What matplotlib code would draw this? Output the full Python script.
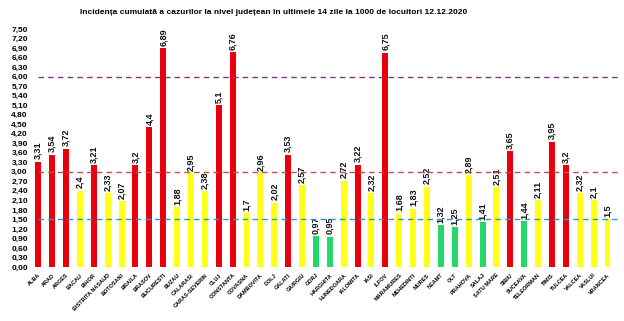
import matplotlib.pyplot as plt
from matplotlib.ticker import FuncFormatter, MultipleLocator

judete = ['ALBA', 'ARAD', 'ARGES', 'BACAU', 'BIHOR', 'BISTRITA NASAUD', 'BOTOSANI',
          'BRAILA', 'BRASOV', 'BUCURESTI', 'BUZAU', 'CALARASI', 'CARAS-SEVERIN', 'CLUJ',
          'CONSTANTA', 'COVASNA', 'DAMBOVITA', 'DOLJ', 'GALATI', 'GIURGIU', 'GORJ',
          'HARGHITA', 'HUNEDOARA', 'IALOMITA', 'IASI', 'ILFOV', 'MARAMURES', 'MEHEDINTI',
          'MURES', 'NEAMT', 'OLT', 'PRAHOVA', 'SALAJ', 'SATU MARE', 'SIBIU', 'SUCEAVA',
          'TELEORMAN', 'TIMIS', 'TULCEA', 'VALCEA', 'VASLUI', 'VRANCEA']
incidenta = [3.31, 3.54, 3.72, 2.4, 3.21, 2.33, 2.07, 3.2, 4.4, 6.89, 1.88, 2.95, 2.38,
             5.1, 6.76, 1.7, 2.96, 2.02, 3.53, 2.57, 0.97, 0.95, 2.72, 3.22, 2.32, 6.75,
             1.68, 1.83, 2.52, 1.32, 1.25, 2.89, 1.41, 2.51, 3.65, 1.44, 2.11, 3.95, 3.2,
             2.32, 2.1, 1.5]
praguri = [6.0, 3.0, 1.5]

plt.rcParams['font.family'] = ['Liberation Sans', 'DejaVu Sans']


def culoare(v):
    if v > 3.0:
        return '#e8000c'
    if v >= 1.5:
        return '#ffff1a'
    return '#26d66a'


fig = plt.figure(figsize=(6.24, 3.21), dpi=100)
ax = fig.add_axes([32 / 624, 1 - 267 / 321, 588 / 624, 238 / 321])

x = range(len(judete))
bars = ax.bar(x, incidenta, width=0.43, color=[culoare(v) for v in incidenta], zorder=2)

for b, v in zip(bars, incidenta):
    txt = ('%g' % v).replace('.', ',')
    ax.text(b.get_x() + b.get_width() / 2, v + 0.08, txt, rotation=90, ha='center',
            va='bottom', fontsize=6.5, fontweight='bold', color='#111111')

stiluri = {6.0: '#7e3a7e', 3.0: '#c84a4a', 1.5: '#2f95c8'}
for p in praguri:
    ax.hlines(p, 0, 42, colors=stiluri[p], linestyles=(0, (4, 3)), linewidth=1.0, zorder=3)

ax.set_xlim(-0.45, 41.9)
ax.set_ylim(0, 7.5)
ax.yaxis.set_major_locator(MultipleLocator(0.3))
ax.yaxis.set_major_formatter(FuncFormatter(lambda v, p: ('%.2f' % v).replace('.', ',')))
ax.tick_params(axis='y', length=0, labelsize=6, pad=3)
for lbl in ax.get_yticklabels():
    lbl.set_fontweight('bold')

ax.set_xticks(list(x))
ax.set_xticklabels(judete, rotation=45, ha='right', va='top', fontsize=4,
                   fontweight='bold', rotation_mode='anchor')
ax.tick_params(axis='x', length=0, pad=4)

for s in ax.spines.values():
    s.set_visible(False)

fig.text(274 / 624, 1 - 12 / 321,
         'Incidența cumulată a cazurilor la nivel județean în ultimele 14 zile la 1000 de locuitori 12.12.2020',
         ha='center', va='center', fontsize=6, fontweight='bold')

fig.savefig('out.png', dpi=100)
